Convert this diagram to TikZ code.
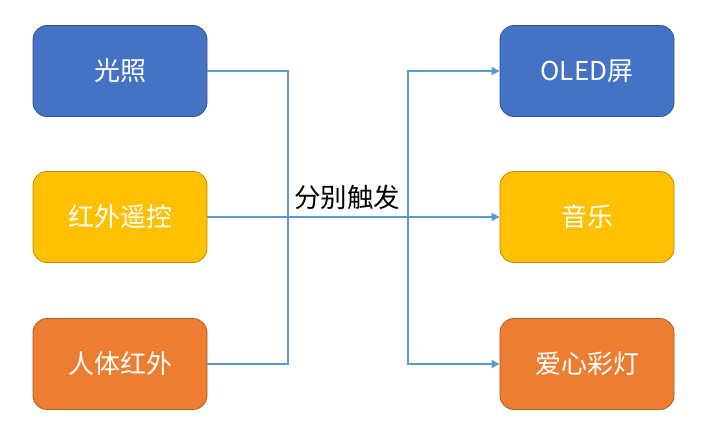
\documentclass[tikz,border=0pt]{standalone}
\usepackage{fontspec}
\setmainfont{Noto Sans CJK SC}
\usetikzlibrary{arrows.meta}
\definecolor{cblue}{HTML}{4472C4}
\definecolor{cblueb}{HTML}{2F528F}
\definecolor{cyel}{HTML}{FFC000}
\definecolor{cyelb}{HTML}{BC8C00}
\definecolor{corg}{HTML}{ED7D31}
\definecolor{corgb}{HTML}{AE5A21}
\definecolor{cline}{HTML}{5B9BD5}
\begin{document}
\begin{tikzpicture}[x=1pt,y=-1pt,
  box/.style={rounded corners=14pt,minimum width=174pt,minimum height=91pt,inner sep=0pt,line width=0.8pt,text=white,font=\fontsize{26}{30}\selectfont},
  bluebox/.style={box,fill=cblue,draw=cblueb},
  yelbox/.style={box,fill=cyel,draw=cyelb},
  orgbox/.style={box,fill=corg,draw=corgb},
  conn/.style={draw=cline,line width=2.6pt},
  arr/.style={conn,-{Triangle[length=8pt,width=8pt]}}]
\useasboundingbox (0,0) rectangle (709,432);
\node[bluebox] (l1) at (120,71) {光照};
\node[yelbox] (l2) at (120,217) {红外遥控};
\node[orgbox] (l3) at (120,364) {人体红外};
\node[bluebox] (r1) at (587,71) {OLED屏};
\node[yelbox] (r2) at (587,217) {音乐};
\node[orgbox] (r3) at (587,364) {爱心彩灯};
\coordinate (a) at (288,217);
\coordinate (b) at (408,217);
\draw[conn] (l1.east) -| (a);
\draw[conn] (l3.east) -| (a);
\draw[conn] (l2.east) -- (b);
\draw[arr] (b) |- (r1.west);
\draw[arr] (b) |- (r3.west);
\draw[arr] (b) -- (r2.west);
\node[font=\fontsize{26.5}{30}\selectfont,inner sep=0pt] (lab) at (347,197) {分别触发};
\end{tikzpicture}
\end{document}
